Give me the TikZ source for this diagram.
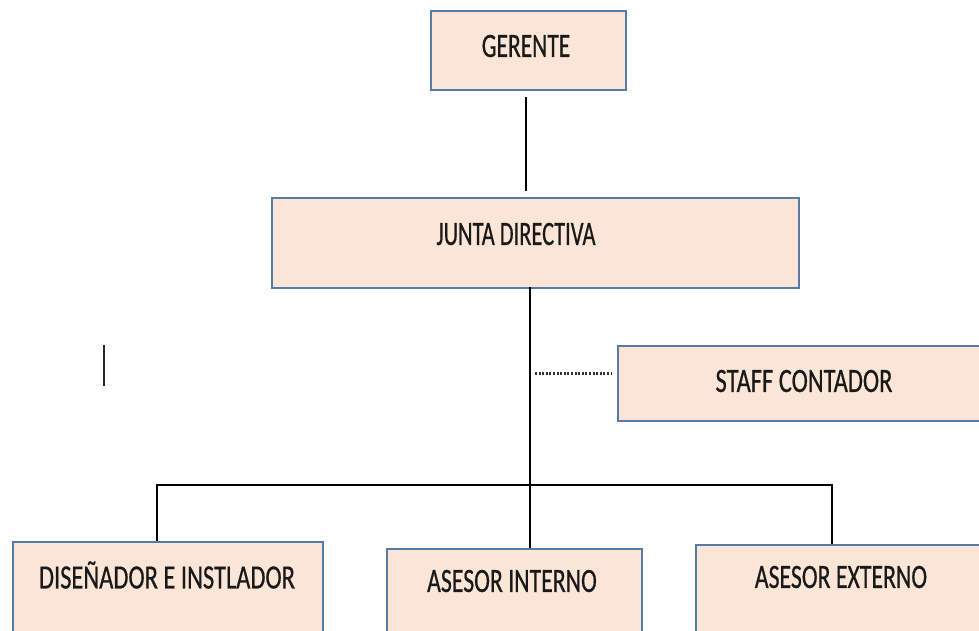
\documentclass[tikz,border=0pt]{standalone}
\usepackage{fontspec}
\setmainfont{Carlito}
\newfontfamily\lblfont[FakeBold=0.7]{Carlito}
\definecolor{boxfill}{RGB}{250,229,214}
\definecolor{boxline}{RGB}{88,122,168}
\newcommand{\sqz}[2][0.72]{\scalebox{#1}[1]{#2}}
\begin{document}
\begin{tikzpicture}[x=1pt,y=-1pt,
  box/.style={draw=boxline,fill=boxfill,line width=1.8pt,anchor=north west,inner sep=0pt},
  lbl/.style={font=\lblfont\fontsize{34}{34}\selectfont,text=black!90,inner sep=0pt},
  conn/.style={line width=1.5pt,black}]
\useasboundingbox (0,0) rectangle (979,630);
\clip (0,0) rectangle (979,630);
% boxes
\node[box,minimum width=195pt,minimum height=79pt] (gerente) at (430,10) {};
\node[box,minimum width=527pt,minimum height=90pt] (junta) at (271,197) {};
\node[box,minimum width=372pt,minimum height=75pt] (staff) at (617,345) {};
\node[box,minimum width=310pt,minimum height=100pt] (disen) at (12,541) {};
\node[box,minimum width=255pt,minimum height=95pt] (interno) at (386,548) {};
\node[box,minimum width=295pt,minimum height=100pt] (externo) at (695,544) {};
% labels
\node[lbl] (gerenteT) at (526,46) {\sqz[0.69]{GERENTE}};
\node[lbl] (juntaT) at (516,234) {\sqz[0.66]{JUNTA DIRECTIVA}};
\node[lbl] (staffT) at (804,381) {\sqz{STAFF CONTADOR}};
\node[lbl] (disenT) at (167,575) {\sqz{DISEÑADOR E INSTLADOR}};
\node[lbl] (internoT) at (512,581) {\sqz[0.7]{ASESOR INTERNO}};
\node[lbl] (externoT) at (841,577) {\sqz[0.7]{ASESOR EXTERNO}};
% coordinates
\coordinate (gtop) at (526,97);
\coordinate (gbot) at (526,191);
\coordinate (trunk) at (530,287);
\coordinate (dotS) at (535,373);
\coordinate (barL) at (157,485);
\coordinate (barR) at (832,485);
\coordinate (s1) at (104,345);
\coordinate (s2) at (104,386);
% connectors
\draw[conn] (gtop) -- (gbot);
\draw[conn] (trunk) -- (trunk |- interno.north);
\draw[line width=3pt,black!80,dash pattern=on 2pt off 1.6pt] (dotS) -- ([xshift=-5pt]staff.west |- dotS);
\draw[conn] (barL |- disen.north) -- (barL) -- (barR) -- (barR |- externo.north);
\draw[line width=1.6pt,black!85] (s1) -- (s2);
\end{tikzpicture}
\end{document}
